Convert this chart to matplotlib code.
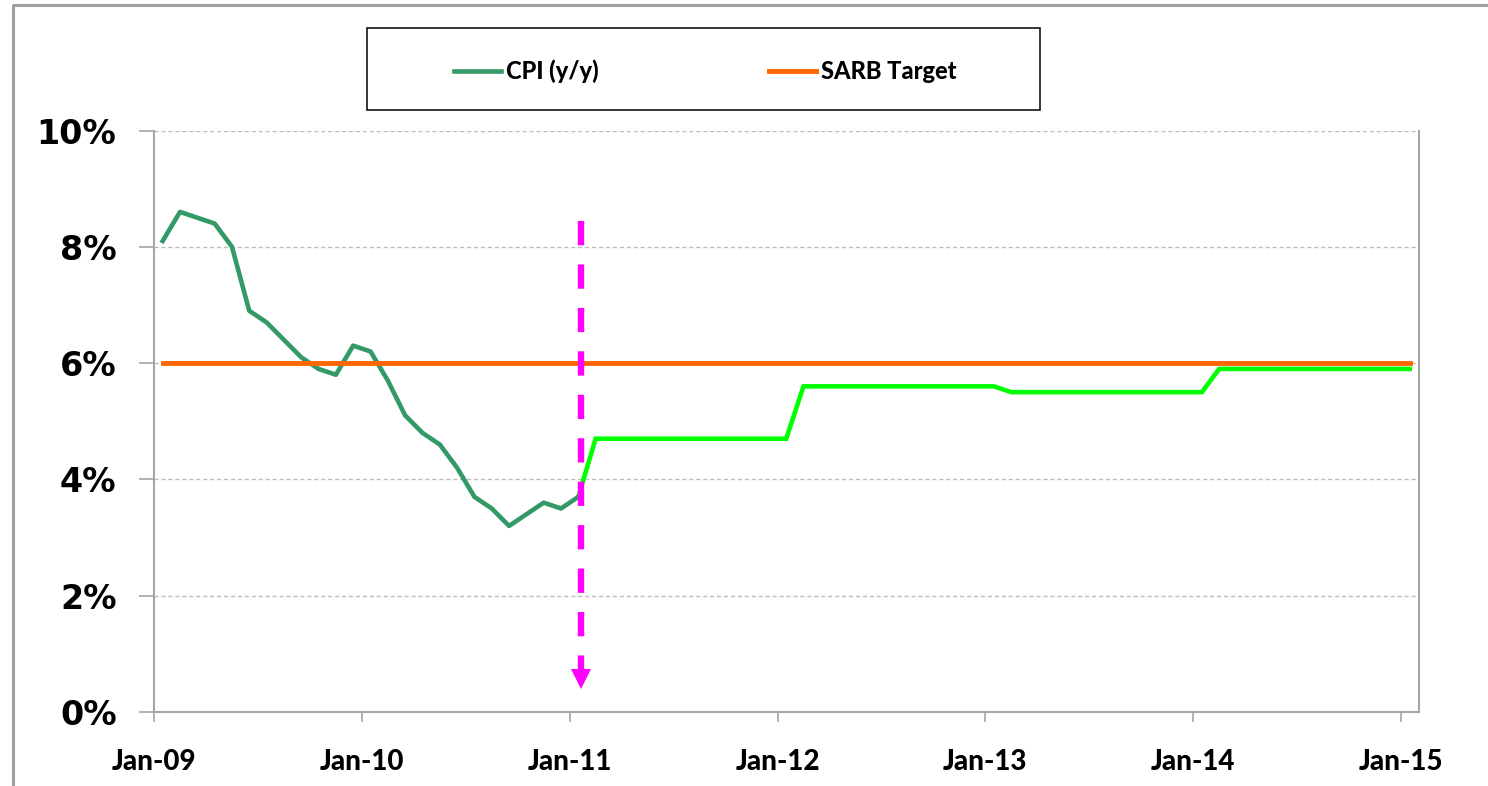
import numpy as np
import matplotlib
matplotlib.use("Agg")
import matplotlib.pyplot as plt
from matplotlib.patches import Rectangle
from matplotlib.lines import Line2D

# monthly CPI y/y, Jan-09 .. Jan-11 (actual)
cpi_actual = [8.1, 8.6, 8.5, 8.4, 8.0, 6.9, 6.7, 6.4, 6.1, 5.9, 5.8, 6.3,
              6.2, 5.7, 5.1, 4.8, 4.6, 4.2, 3.7, 3.5, 3.2, 3.4, 3.6, 3.5,
              3.7]
# forecast path, Jan-11 .. Jan-15
cpi_forecast = [3.7,
                4.7, 4.7, 4.7, 4.7, 4.7, 4.7, 4.7, 4.7, 4.7, 4.7, 4.7, 4.7,
                5.6, 5.6, 5.6, 5.6, 5.6, 5.6, 5.6, 5.6, 5.6, 5.6, 5.6, 5.6,
                5.5, 5.5, 5.5, 5.5, 5.5, 5.5, 5.5, 5.5, 5.5, 5.5, 5.5, 5.5,
                5.9, 5.9, 5.9, 5.9, 5.9, 5.9, 5.9, 5.9, 5.9, 5.9, 5.9, 5.9]
sarb_target = 6.0
n_months = 73  # Jan-09 .. Jan-15
forecast_start = 24  # Jan-11
year_labels = ["Jan-09", "Jan-10", "Jan-11", "Jan-12", "Jan-13", "Jan-14", "Jan-15"]
y_ticks = [0, 2, 4, 6, 8, 10]

W, H = 1488, 786
fig = plt.figure(figsize=(W / 100, H / 100), dpi=100)
ax = fig.add_axes([154 / W, 1 - 712 / H, (1418.7 - 154) / W, (712 - 130.5) / H])

# months are plotted in the middle of each month
x_all = np.arange(n_months) + 0.5
x_act = x_all[:len(cpi_actual)]
x_fc = x_all[forecast_start:forecast_start + len(cpi_forecast)]

ax.plot(x_fc, cpi_forecast, color="#00FF00", lw=3.3, solid_joinstyle="miter", zorder=3)
ax.plot(x_act, cpi_actual, color="#339966", lw=3.3, label="CPI (y/y)", zorder=4)
ax.plot(x_all, [sarb_target] * n_months, color="#FF6600", lw=3.5, label="SARB Target", zorder=5)

# magenta dashed arrow at start of forecast
xa = x_all[forecast_start] + 0.15
ax.plot([xa, xa], [8.45, 0.70], color="#FF00FF", lw=4.6,
        linestyle=(0, (3.8, 3.0)), dash_capstyle="butt", zorder=6)
ax.plot([xa], [0.56], marker="v", markersize=13.7, color="#FF00FF",
        markeredgewidth=0, zorder=6)

ax.set_xlim(0, 73.02)
ax.set_ylim(0, 10)
ax.set_xticks(np.arange(0, 73, 12))
ax.set_xticklabels(year_labels, family="Lato", fontweight=900, fontsize=20)
ax.set_yticks(y_ticks)
ax.set_yticklabels([f"{v}%" for v in y_ticks], family="DejaVu Sans",
                   fontweight="bold", fontsize=24)
ax.tick_params(axis="y", direction="out", length=11, width=1.2, color="#A6A6A6", pad=16)
ax.tick_params(axis="x", direction="out", length=7, width=1.2, color="#A6A6A6", pad=20)

ax.yaxis.grid(True, linestyle=(0, (3, 2)), color="#BDBDBD", lw=1.0)
ax.set_axisbelow(True)
for s in ["left", "bottom", "right"]:
    ax.spines[s].set_color("#A6A6A6")
    ax.spines[s].set_linewidth(1.5)
ax.spines["top"].set_visible(False)

# legend box
fig.patches.append(Rectangle((367 / W, 1 - 110 / H), 673 / W, 82 / H, fill=False,
                             edgecolor="black", lw=1.1, transform=fig.transFigure))
handles, labels = ax.get_legend_handles_labels()
fig.legend(handles, labels, loc="center", bbox_to_anchor=(705 / W, 1 - 71 / H),
           ncol=2, frameon=False, handlelength=2.0, handletextpad=0.2,
           columnspacing=7.2, prop={"family": "Lato", "weight": 900, "size": 17})

# outer chart frame
fig.add_artist(Line2D([12.5 / W, 12.5 / W, 1.0], [0.0, 1 - 4.5 / H, 1 - 4.5 / H],
                      color="#A0A0A0", lw=2.2, transform=fig.transFigure))

fig.savefig("out.png", dpi=100)
